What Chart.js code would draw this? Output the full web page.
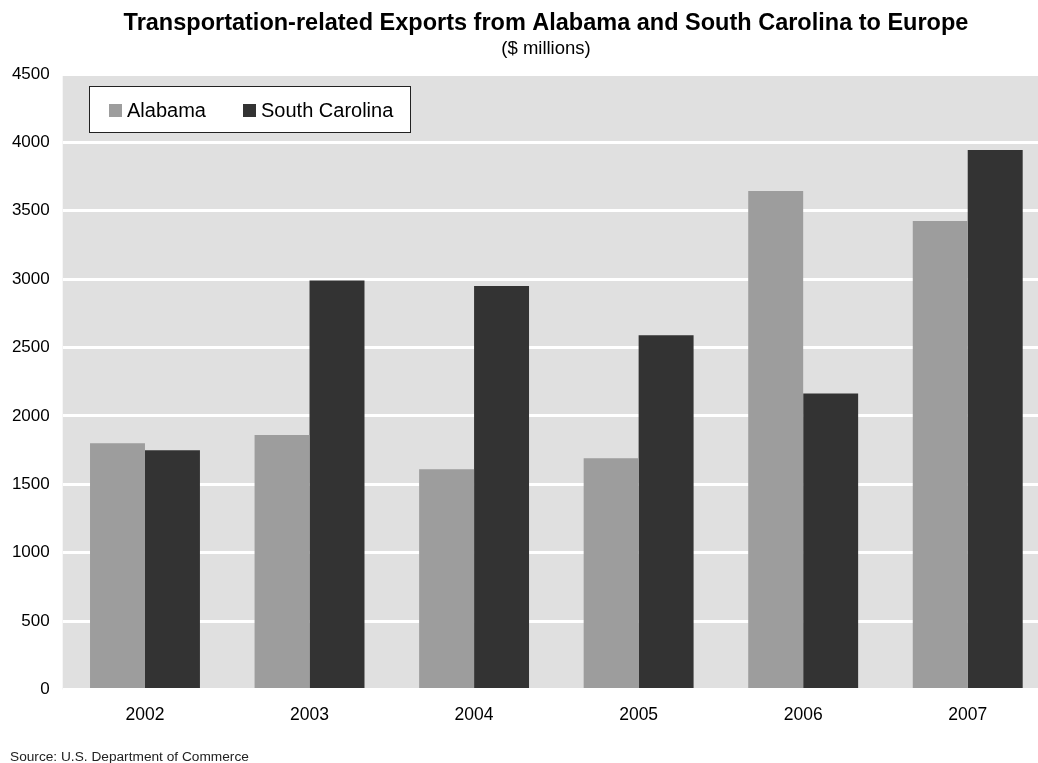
<!DOCTYPE html>
<html>
<head>
<meta charset="utf-8">
<title>Transportation-related Exports</title>
<script src="https://cdn.jsdelivr.net/npm/chart.js@4/dist/chart.umd.min.js"></script>
<style>
  html, body { margin: 0; padding: 0; background: #ffffff; overflow: hidden; }
  /* the plot runs a little past the right edge, so the canvas is cropped */
  #wrap { width: 1038px; height: 763px; overflow: hidden; }
  #myChart { display: block; }
</style>
</head>
<body>
<div id="wrap"><canvas id="myChart" width="1050" height="763"></canvas></div>
<script>
// Exports to Europe, $ millions
const years = ["2002", "2003", "2004", "2005", "2006", "2007"];
const alabama = [1800, 1860, 1610, 1690, 3645, 3425];
const southCarolina = [1750, 2990, 2950, 2590, 2165, 3945];
const yTicks = [0, 500, 1000, 1500, 2000, 2500, 3000, 3500, 4000, 4500];

const FONT = "'Liberation Sans', Arial, sans-serif";

// grey plot background behind the grid
const plotBackground = {
  id: "plotBackground",
  beforeDraw(chart) {
    const { ctx, chartArea } = chart;
    ctx.save();
    ctx.fillStyle = "#e0e0e0";
    ctx.fillRect(chartArea.left, chartArea.top + 2, chartArea.right - chartArea.left, chartArea.bottom - chartArea.top - 2);
    ctx.restore();
  },
};

// titles, boxed legend inside the plot and source note
const annotations = {
  id: "annotations",
  afterDraw(chart) {
    const { ctx } = chart;
    const cx = 546;
    ctx.save();
    ctx.fillStyle = "#000000";
    ctx.textAlign = "center";
    ctx.textBaseline = "middle";
    ctx.font = "bold 23.5px " + FONT;
    ctx.fillText("Transportation-related Exports from Alabama and South Carolina to Europe", cx, 24);
    ctx.font = "18.5px " + FONT;
    ctx.fillText("($ millions)", cx, 49);

    // legend box
    ctx.fillStyle = "#ffffff";
    ctx.fillRect(89, 86, 322, 47);
    ctx.strokeStyle = "#222222";
    ctx.lineWidth = 1;
    ctx.strokeRect(89.5, 86.5, 321, 46);
    ctx.font = "20px " + FONT;
    ctx.textAlign = "left";
    const items = [
      { label: "Alabama", color: "#9d9d9d", x: 109 },
      { label: "South Carolina", color: "#333333", x: 243 },
    ];
    items.forEach((it) => {
      ctx.fillStyle = it.color;
      ctx.fillRect(it.x, 104, 13, 13);
      ctx.fillStyle = "#000000";
      ctx.fillText(it.label, it.x + 18, 111);
    });

    ctx.font = "13.7px " + FONT;
    ctx.fillStyle = "#222222";
    ctx.fillText("Source: U.S. Department of Commerce", 10, 757);
    ctx.restore();
  },
};

const ctx = document.getElementById("myChart").getContext("2d");
const chart = new Chart(ctx, {
  type: "bar",
  data: {
    labels: years,
    datasets: [
      { label: "Alabama", data: alabama, backgroundColor: "#9d9d9d" },
      { label: "South Carolina", data: southCarolina, backgroundColor: "#333333" },
    ],
  },
  options: {
    responsive: false,
    animation: false,
    devicePixelRatio: 1,
    layout: { padding: { top: 74, right: 0, left: 0, bottom: 0 } },
    datasets: {
      bar: { categoryPercentage: 0.668, barPercentage: 1.0, borderWidth: 0 },
    },
    plugins: {
      legend: { display: false },
      title: { display: false },
      tooltip: { enabled: false },
    },
    scales: {
      x: {
        grid: { display: false, drawTicks: false },
        border: { display: false },
        ticks: { color: "#000000", font: { family: FONT, size: 17.5 }, padding: 15 },
        afterFit(scale) { scale.height = 73.5; },
      },
      y: {
        min: 0,
        max: 4500,
        afterBuildTicks(scale) { scale.ticks = yTicks.map((v) => ({ value: v })); },
        grid: { color: "#ffffff", lineWidth: 3, drawTicks: false },
        border: { display: false },
        ticks: {
          color: "#000000",
          font: { family: FONT, size: 17 },
          padding: 13,
          callback: (value) => String(value),
        },
        afterFit(scale) { scale.width = 62.7; },
      },
    },
  },
  plugins: [plotBackground, annotations],
});
</script>
</body>
</html>
